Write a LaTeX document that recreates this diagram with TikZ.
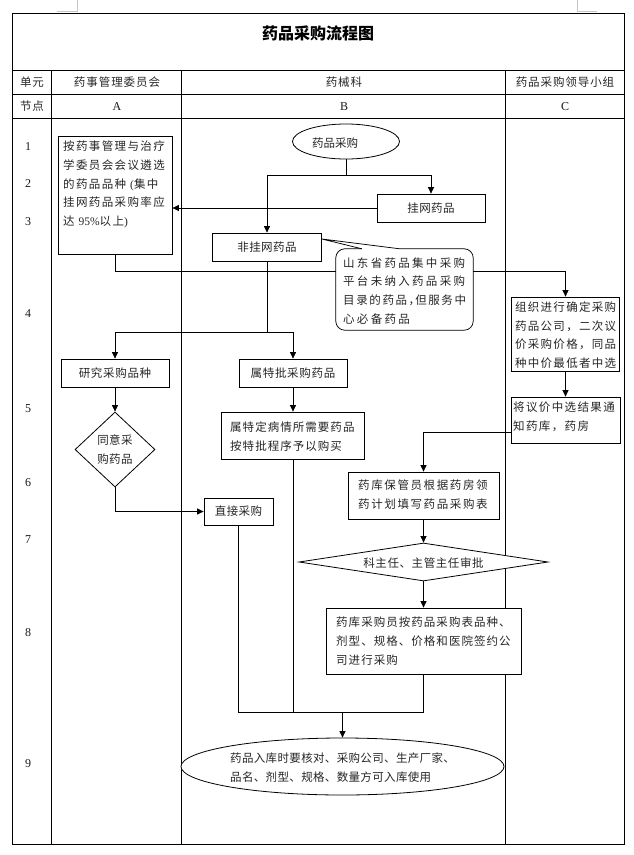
\documentclass[tikz,border=0pt]{standalone}
\usepackage{fontspec}
\setmainfont{Liberation Serif}
\newfontfamily\cjk{Noto Sans CJK SC}
\usetikzlibrary{arrows.meta,shapes.geometric}
\newcommand\lsp[1]{\addfontfeatures{LetterSpace=#1}}
\begin{document}
\begin{tikzpicture}[x=1pt,y=-1pt,
  tbl/.style={line width=1pt,black},
  box/.style={draw,line width=0.8pt,fill=white,inner sep=0pt,rectangle},
  ov/.style={draw,line width=0.8pt,fill=white,inner sep=0pt,ellipse},
  dia/.style={draw,line width=0.8pt,fill=white,inner sep=0pt,diamond},
  txt/.style={inner sep=0pt,align=left,text=black!85,font=\fontsize{11.5}{18.7}\selectfont\cjk\lsp{#1}},
  ctxt/.style={inner sep=0pt,align=center,text=black!85,font=\fontsize{11.5}{18.7}\selectfont\cjk\lsp{#1}},
  hd/.style={inner sep=0pt,text=black!85,font=\fontsize{11.5}{14}\selectfont\cjk\lsp{8}},
  lat/.style={inner sep=0pt,text=black!90,font=\fontsize{12}{14}\selectfont},
  ln/.style={line width=0.75pt},
  arr/.style={-{Triangle[length=6.5pt,width=6pt]},line width=0.75pt}]
\useasboundingbox (0,0) rectangle (634,855);
\fill[white] (0,0) rectangle (634,855);
% corner marks
\draw[gray!45,line width=0.6pt] (77,0) -- (77,11.5) -- (57,11.5);
\draw[gray!45,line width=0.6pt] (577,0) -- (577,11.5) -- (597,11.5);
% table
\draw[tbl] (12,13) rectangle (624,844);
\draw[tbl] (12,70.7) -- (624,70.7);
\draw[tbl] (12,94.3) -- (624,94.3);
\draw[tbl] (12,118.3) -- (624,118.3);
\draw[tbl] (51.7,70.7) -- (51.7,844);
\draw[tbl] (181.7,70.7) -- (181.7,844);
\draw[tbl] (505.7,70.7) -- (505.7,844);
% title and headers
\node[inner sep=0pt,font=\fontsize{16}{18}\selectfont\cjk\bfseries] (title) at (318,33) {药品采购流程图};
\node[hd] (u1) at (32,82) {单元};
\node[hd] (u2) at (117,82) {药事管理委员会};
\node[hd] (u3) at (344,82) {药械科};
\node[hd] (u4) at (565,82) {药品采购领导小组};
\node[hd] (n1) at (32,106.5) {节点};
\node[lat] (n2) at (117,106.5) {A};
\node[lat] (n3) at (344,106.5) {B};
\node[lat] (n4) at (565,106.5) {C};
% row numbers
\node[lat] (r1) at (28,147) {1};
\node[lat] (r2) at (28,184) {2};
\node[lat] (r3) at (28,222) {3};
\node[lat] (r4) at (28,314) {4};
\node[lat] (r5) at (28,409) {5};
\node[lat] (r6) at (28,483) {6};
\node[lat] (r7) at (28,540) {7};
\node[lat] (r8) at (28,633) {8};
\node[lat] (r9) at (28,764) {9};
% shapes
\node[box,minimum width=114pt,minimum height=118pt] (A1) at (115,195) {};
\node[ov,minimum width=107pt,minimum height=35pt] (oval) at (346,141.5) {};
\node[box,txt=4,minimum width=108pt,minimum height=28pt] (guaw) at (431,208) {挂网药品};
\node[box,txt=4,minimum width=109pt,minimum height=28pt] (fei) at (267,247) {非挂网药品};
\node[box,minimum width=108pt,minimum height=74pt] (C1) at (565.5,334) {};
\node[box,minimum width=109pt,minimum height=46pt] (C2) at (565.5,420) {};
\node[box,txt=6,minimum width=108pt,minimum height=28pt] (yj) at (115,373) {研究采购品种};
\node[box,txt=6,minimum width=108pt,minimum height=28pt] (tp) at (293,373) {属特批采购药品};
\node[dia,minimum width=80pt,minimum height=75pt] (dA) at (115,449.5) {};
\node[box,minimum width=143pt,minimum height=47pt] (td) at (293,435.5) {};
\node[box,minimum width=151pt,minimum height=47pt] (yk) at (423.5,495.5) {};
\node[box,txt=4,minimum width=69pt,minimum height=27pt] (zj) at (238.5,511.5) {直接采购};
\node[dia,minimum width=249pt,minimum height=38pt] (dB) at (423.5,562) {};
\node[box,minimum width=195pt,minimum height=66pt] (cg) at (423.5,641) {};
\node[ov,minimum width=323pt,minimum height=57pt] (ell) at (342.5,766.5) {};
% coordinates
\coordinate (s1) at (346,175);
\coordinate (s2) at (267,332);
\coordinate (y271) at (0,271);
\coordinate (m) at (342.5,712);
% connectors
\draw[ln] (oval.south) -- (s1);
\draw[arr] (s1) -| (fei.north);
\draw[arr] (s1) -| (guaw.north);
\draw[arr] (guaw.west) -- (guaw.west -| A1.east);
\draw[arr] (A1.south) -- (A1.south |- y271) -| (C1.north);
\draw[ln] (fei.south) -- (s2);
\draw[arr] (s2) -| (yj.north);
\draw[arr] (s2) -| (tp.north);
\draw[arr] (yj.south) -- (dA.north);
\draw[arr] (dA.south) |- (zj.west);
\draw[arr] (tp.south) -- (td.north);
\draw[arr] (C1.south) -- (C2.north);
\draw[arr] ([yshift=-12pt]C2.west) -| (yk.north);
\draw[arr] (yk.south) -- (dB.north);
\draw[arr] (dB.south) -- (cg.north);
\draw[ln] (zj.south) -- (zj.south |- m) -- (cg.south |- m) -- (cg.south);
\draw[ln] (td.south) -- (td.south |- m);
\draw[arr] (m) -- (ell.north);
% callout
\node[fill=white,rounded corners=9pt,inner sep=0pt,minimum width=137pt,minimum height=81pt] (co) at (404.5,289.5) {};
\draw[ln,rounded corners=9pt] ([xshift=64pt]co.north west) -- (co.north east) -- (co.south east) -- (co.south west) -- (co.north west) -- ([xshift=26pt]co.north west);
\coordinate (ptip) at ([yshift=8pt]fei.east);
\draw[ln] ([xshift=26pt]co.north west) -- (ptip) -- ([xshift=64pt]co.north west);
% texts
\node[txt=12,anchor=west] (A1t) at (63,184.5) {按药事管理与治疗\\学委员会会议遴选\\的药品品种 {\rmfamily(}集中\\挂网药品采购率应\\达 {\rmfamily 95\%}以上{\rmfamily)}};
\node[ctxt=0] (ovt) at (335,143) {药品采购};
\node[txt=20,anchor=west] (cot) at (343,290.7) {山东省药品集中采购\\平台未纳入药品采购\\{\lsp{14}目录的药品，\kern-5pt 但服务中}\\心必备药品};
\node[txt=11,anchor=west] (C1t) at (515,335) {组织进行确定采购\\药品公司，二次议\\价采购价格，同品\\种中价最低者中选};
\node[txt=12,anchor=west] (C2t) at (513,416.5) {将议价中选结果通\\知药库，药房};
\node[ctxt=4] (dAt) at (115,449.5) {同意采\\购药品};
\node[txt=9,anchor=west] (tdt) at (230,436.5) {属特定病情所需要药品\\按特批程序予以购买};
\node[txt=14,anchor=west] (ykt) at (358,494.5) {药库保管员根据药房领\\药计划填写药品采购表};
\node[ctxt=5] (dBt) at (423.5,563) {科主任、主管主任审批};
\node[txt=9,anchor=west] (cgt) at (336,641) {药库采购员按药品采购表品种、\\剂型、规格、价格和医院签约公\\司进行采购};
\node[txt=3,anchor=west] (ellt) at (230,767.5) {药品入库时要核对、采购公司、生产厂家、\\品名、剂型、规格、数量方可入库使用};
\end{tikzpicture}
\end{document}
